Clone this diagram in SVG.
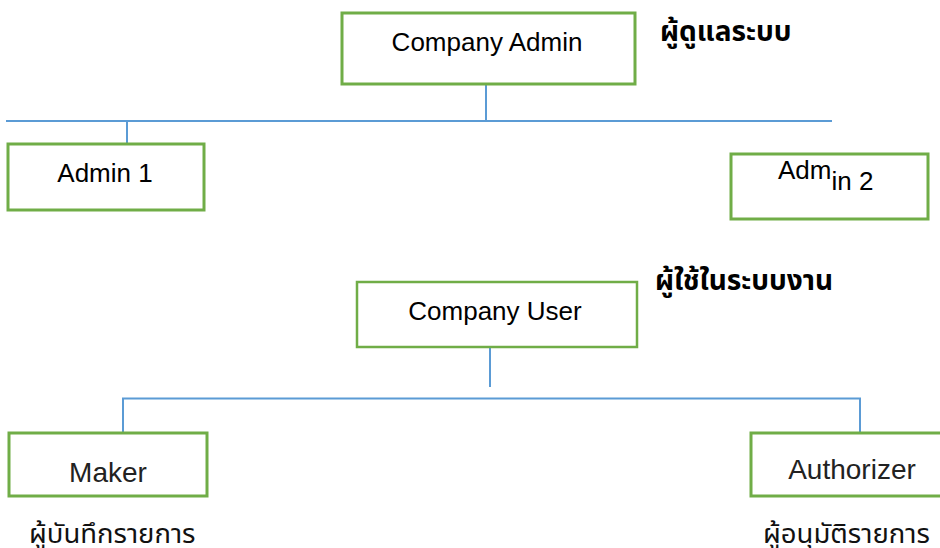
<svg xmlns="http://www.w3.org/2000/svg" width="940" height="548" viewBox="0 0 940 548">
<style>
.box{fill:#fff;stroke:#70AD47;stroke-width:3}
.lbl{font-family:"Liberation Sans","Noto Sans",sans-serif;font-size:26px;fill:#000;text-anchor:middle}
.light{font-family:"Liberation Sans","Noto Sans",sans-serif;font-size:28px;fill:#222;text-anchor:middle}
.th{font-family:"Noto Sans Thai","Leelawadee UI","Noto Sans",sans-serif;font-size:27.5px;fill:#111}
.thb{font-family:"Noto Sans Thai","Leelawadee UI","Noto Sans",sans-serif;font-size:28px;font-weight:bold;fill:#000}
.conn{fill:none;stroke:#5B9BD5;stroke-width:2}
</style>
<rect width="940" height="548" fill="#fff"/>
<g id="connectors">
<path class="conn" d="M486 85V121M6 121H832M127 121V143"/>
<path class="conn" d="M490 348V387" stroke-width="1"/>
<path class="conn" d="M123 433V398.5H860V433"/>
</g>
<g id="company-admin">
<rect class="box" x="342" y="13" width="293" height="71"/>
<text class="lbl" x="487" y="51">Company Admin</text>
</g>
<text class="thb" x="660" y="41">ผู้ดูแลระบบ</text>
<g id="admin1">
<rect class="box" x="8" y="144" width="196" height="66"/>
<text class="lbl" x="105" y="182">Admin 1</text>
</g>
<g id="admin2">
<rect class="box" x="731" y="154" width="197" height="65"/>
<text class="lbl" x="778" y="179" style="text-anchor:start">Adm<tspan dy="11">in 2</tspan></text>
</g>
<text class="thb" x="655" y="290">ผู้ใช้ในระบบงาน</text>
<g id="company-user">
<rect class="box" x="357" y="282" width="280" height="65" style="stroke-width:2.5"/>
<text class="lbl" x="495" y="320">Company User</text>
</g>
<g id="maker">
<rect class="box" x="9" y="433" width="198" height="63"/>
<text class="light" x="108" y="482">Maker</text>
<text class="th" x="29" y="543">ผู้บันทึกรายการ</text>
</g>
<g id="authorizer">
<rect class="box" x="751" y="433" width="200" height="63"/>
<text class="light" x="852" y="479">Authorizer</text>
<text class="th" x="763" y="543">ผู้อนุมัติรายการ</text>
</g>
</svg>
